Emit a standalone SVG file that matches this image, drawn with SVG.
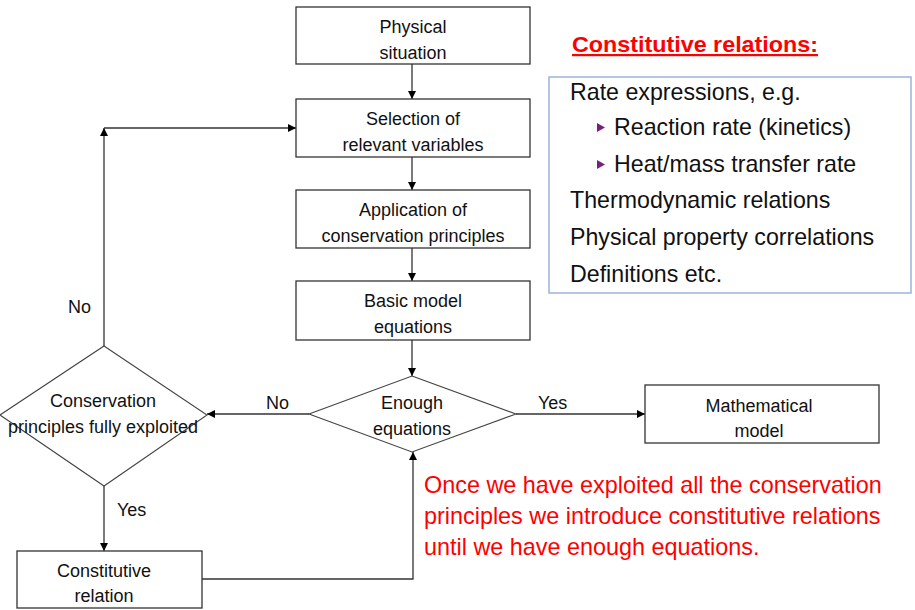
<svg xmlns="http://www.w3.org/2000/svg" width="915" height="610" viewBox="0 0 915 610">
  <defs>
    <marker id="arrow" viewBox="0 0 10 10" refX="10" refY="5" markerWidth="8" markerHeight="8" markerUnits="userSpaceOnUse" orient="auto">
      <path d="M0,0 L10,5 L0,10 z" fill="#000"/>
    </marker>
    <style>
      .box { fill: #fff; stroke: #333; stroke-width: 1.3; }
      .dia { fill: #fff; stroke: #444; stroke-width: 1.1; }
      .conn { fill: none; stroke: #333; stroke-width: 1.3; }
      .node { font-family: "Liberation Sans", Arial, sans-serif; font-size: 18px; fill: #111; text-anchor: middle; }
      .lbl { font-family: "Liberation Sans", Arial, sans-serif; font-size: 18px; fill: #111; }
      .list { font-family: "Liberation Sans", Arial, sans-serif; font-size: 23.2px; fill: #111; }
      .note { font-family: "Liberation Sans", Arial, sans-serif; font-size: 23.4px; fill: #ff0000; }
    </style>
  </defs>
  <rect width="915" height="610" fill="#fff"/>

  <!-- connectors -->
  <g id="connectors">
    <line class="conn" x1="412" y1="64" x2="412" y2="99" marker-end="url(#arrow)"/>
    <line class="conn" x1="412" y1="157" x2="412" y2="190" marker-end="url(#arrow)"/>
    <line class="conn" x1="412" y1="248" x2="412" y2="281" marker-end="url(#arrow)"/>
    <line class="conn" x1="412" y1="340" x2="412" y2="376" marker-end="url(#arrow)"/>
    <line class="conn" x1="309" y1="414" x2="207" y2="414" marker-end="url(#arrow)"/>
    <line class="conn" x1="516" y1="414" x2="645" y2="414" marker-end="url(#arrow)"/>
    <line class="conn" x1="104" y1="486" x2="104" y2="551" marker-end="url(#arrow)"/>
    <polyline class="conn" points="202,579 413,579 413,452" marker-end="url(#arrow)"/>
    <line class="conn" x1="104" y1="346" x2="104" y2="128" marker-end="url(#arrow)"/>
    <line class="conn" x1="104" y1="128" x2="296" y2="128" marker-end="url(#arrow)"/>
  </g>

  <!-- edge labels -->
  <g id="edge-labels">
    <text class="lbl" x="68" y="313">No</text>
    <text class="lbl" x="266" y="409">No</text>
    <text class="lbl" x="538" y="409">Yes</text>
    <text class="lbl" x="117" y="516">Yes</text>
  </g>

  <g id="physical-situation">
    <rect class="box" x="296" y="7" width="234" height="57"/>
    <text class="node" x="413" y="33">Physical</text>
    <text class="node" x="413" y="59">situation</text>
  </g>

  <g id="selection-variables">
    <rect class="box" x="296" y="99" width="234" height="58"/>
    <text class="node" x="413" y="125">Selection of</text>
    <text class="node" x="413" y="151">relevant variables</text>
  </g>

  <g id="conservation-principles">
    <rect class="box" x="296" y="190" width="234" height="58"/>
    <text class="node" x="413" y="216">Application of</text>
    <text class="node" x="413" y="242">conservation principles</text>
  </g>

  <g id="basic-model">
    <rect class="box" x="296" y="281" width="234" height="59"/>
    <text class="node" x="413" y="307">Basic model</text>
    <text class="node" x="413" y="333">equations</text>
  </g>

  <g id="enough-equations">
    <polygon class="dia" points="412,376 516,414 412,452 309,414"/>
    <text class="node" x="412" y="409">Enough</text>
    <text class="node" x="412" y="435">equations</text>
  </g>

  <g id="fully-exploited">
    <polygon class="dia" points="104,346 207,415 104,486 0,415"/>
    <text class="node" x="103" y="407">Conservation</text>
    <text class="node" x="103" y="433">principles fully exploited</text>
  </g>

  <g id="mathematical-model">
    <rect class="box" x="645" y="385" width="234" height="58"/>
    <text class="node" x="759" y="412">Mathematical</text>
    <text class="node" x="759" y="437">model</text>
  </g>

  <g id="constitutive-relation">
    <rect class="box" x="17" y="551" width="185" height="57"/>
    <text class="node" x="104" y="577">Constitutive</text>
    <text class="node" x="104" y="602">relation</text>
  </g>

  <!-- side panel: list of constitutive relations -->
  <g id="constitutive-list">
    <text x="572" y="52" font-family="Liberation Sans, Arial, sans-serif" font-size="22" font-weight="bold" fill="#ff0000" text-decoration="underline" textLength="246" lengthAdjust="spacingAndGlyphs">Constitutive relations:</text>
    <rect x="549" y="77" width="362" height="216" fill="#fff" stroke="#9db4d6" stroke-width="1.5"/>
    <text class="list" x="570" y="100">Rate expressions, e.g.</text>
    <polygon points="597,123 605,127.5 597,132" fill="#7a1e7e"/>
    <text class="list" x="614" y="135">Reaction rate (kinetics)</text>
    <polygon points="597,160 605,164.5 597,169" fill="#7a1e7e"/>
    <text class="list" x="614" y="172">Heat/mass transfer rate</text>
    <text class="list" x="570" y="208">Thermodynamic relations</text>
    <text class="list" x="570" y="245">Physical property correlations</text>
    <text class="list" x="570" y="282">Definitions etc.</text>
  </g>

  <g id="note">
    <text class="note" x="424" y="493">Once we have exploited all the conservation</text>
    <text class="note" x="424" y="524">principles we introduce constitutive relations</text>
    <text class="note" x="424" y="555">until we have enough equations.</text>
  </g>
</svg>
